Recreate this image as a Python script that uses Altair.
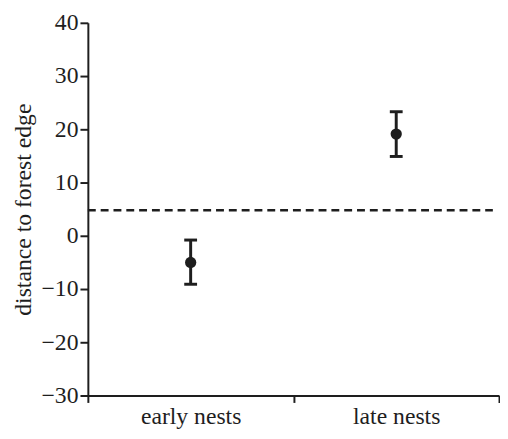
import altair as alt
import pandas as pd

categories = ["early nests", "late nests"]
means = [-5.0, 19.1]
lower = [-9.1, 14.9]
upper = [-0.8, 23.3]
reference_value = 4.8
reference_span = [0.0, 1.97]
y_ticks = [-30, -20, -10, 0, 10, 20, 30, 40]

df = pd.DataFrame({
    "cat": categories,
    "pos": [i + 0.5 for i in range(len(categories))],
    "mean": means,
    "lo": lower,
    "hi": upper,
})
ref = pd.DataFrame({"y": [reference_value], "x0": [reference_span[0]], "x1": [reference_span[1]]})

label_expr = " : ".join(
    f"datum.value == {i + 0.5} ? '{c}'" for i, c in enumerate(categories)
) + " : ''"
x_values = sorted(set([float(i) for i in range(len(categories) + 1)] + [i + 0.5 for i in range(len(categories))]))

INK = "#1e1e1e"
FONT = "Liberation Serif"
FS = 24

xscale = alt.Scale(domain=[0, len(categories)], nice=False, zero=False)
yscale = alt.Scale(domain=[-30, 40], nice=False, zero=False)

xaxis = alt.Axis(
    values=x_values,
    labelExpr=label_expr,
    labelOverlap=False,
    labelFlush=False,
    tickOpacity={"condition": {"test": "datum.value % 1 == 0", "value": 1}, "value": 0},
    tickSize=7,
    tickWidth=2,
    tickColor=INK,
    domainColor=INK,
    domainWidth=2,
    labelFont=FONT,
    labelFontSize=FS,
    labelColor=INK,
    labelPadding=2,
    grid=False,
)
yaxis = alt.Axis(
    values=y_ticks,
    tickSize=8,
    tickWidth=2,
    tickColor=INK,
    domainColor=INK,
    domainWidth=2,
    labelFont=FONT,
    labelFontSize=FS,
    labelColor=INK,
    labelPadding=2,
    titleFont=FONT,
    titleFontSize=FS,
    titleFontWeight="normal",
    titleColor=INK,
    titlePadding=6,
    grid=False,
)
YT = "distance to forest edge"

ref_line = alt.Chart(ref).mark_rule(color=INK, strokeWidth=2.5, strokeDash=[8, 5]).encode(
    x=alt.X("x0:Q", scale=xscale, axis=xaxis, title=None),
    x2="x1:Q",
    y=alt.Y("y:Q", scale=yscale, axis=yaxis, title=YT),
)

base = alt.Chart(df)
bars = base.mark_rule(color=INK, strokeWidth=3).encode(
    x=alt.X("pos:Q", scale=xscale, axis=xaxis, title=None),
    y=alt.Y("lo:Q", scale=yscale, axis=yaxis, title=YT),
    y2="hi:Q",
)
cap_lo = base.mark_tick(color=INK, orient="horizontal", size=13, thickness=3, opacity=1).encode(
    x=alt.X("pos:Q", scale=xscale, axis=xaxis, title=None),
    y=alt.Y("lo:Q", scale=yscale, axis=yaxis, title=YT),
)
cap_hi = base.mark_tick(color=INK, orient="horizontal", size=13, thickness=3, opacity=1).encode(
    x=alt.X("pos:Q", scale=xscale, axis=xaxis, title=None),
    y=alt.Y("hi:Q", scale=yscale, axis=yaxis, title=YT),
)
points = base.mark_circle(color=INK, size=130, opacity=1).encode(
    x=alt.X("pos:Q", scale=xscale, axis=xaxis, title=None),
    y=alt.Y("mean:Q", scale=yscale, axis=yaxis, title=YT),
)

chart = alt.layer(ref_line, bars, cap_lo, cap_hi, points).properties(
    width=417,
    height=378,
    autosize=alt.AutoSizeParams(type="none"),
    padding={"left": 81, "top": 12, "right": 1, "bottom": 36},
    background="white",
).configure_view(stroke=None)

chart.save("out.html", embed_options={"renderer": "svg", "actions": False})
